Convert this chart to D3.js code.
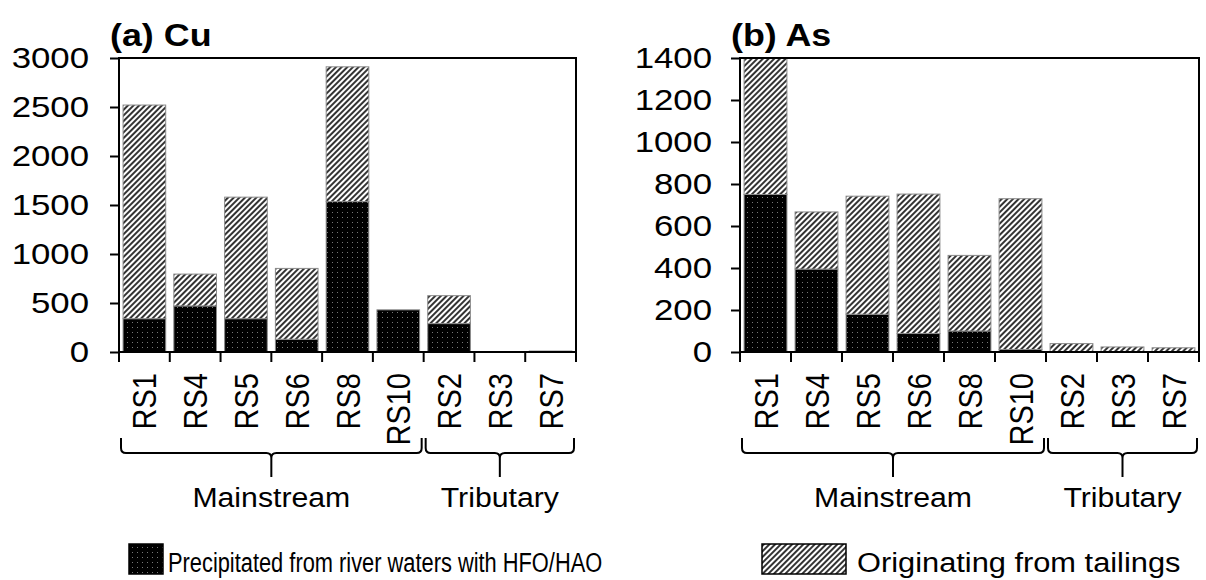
<!DOCTYPE html>
<html>
<head>
<meta charset="utf-8">
<script src="https://cdn.jsdelivr.net/npm/d3@7"></script>
<style>
  body { margin: 0; background: #fff; }
  svg { display: block; font-family: "Liberation Sans", Arial, sans-serif; }
</style>
</head>
<body>
<svg id="chart" width="1206" height="580"></svg>
<script>
// sampling sites, in plotted order
const sites = ["RS1", "RS4", "RS5", "RS6", "RS8", "RS10", "RS2", "RS3", "RS7"];
const groups = [
    {name: "Mainstream", from: 0, to: 6},
    {name: "Tributary", from: 6, to: 9}
];

// Cu (a)
const cuPrecipitated = [340, 470, 340, 130, 1535, 430, 290, 0, 2];
const cuTailings = [2180, 325, 1240, 723, 1375, 0, 285, 0, 8];
const cuTicks = [0, 500, 1000, 1500, 2000, 2500, 3000];

// As (b)
const asPrecipitated = [750, 395, 180, 88, 100, 12, 2, 1, 1];
const asTailings = [650, 272, 562, 664, 360, 718, 38, 23, 19];
const asTicks = [0, 200, 400, 600, 800, 1000, 1200, 1400];

const legendLabels = ["Precipitated from river waters with HFO/HAO", "Originating from tailings"];

const svg = d3.select("#chart");
const defs = svg.append("defs");

// black with faint dots
let dots = defs.append("pattern").attr("id", "dots")
    .attr("patternUnits", "userSpaceOnUse").attr("width", 5).attr("height", 5);
dots.append("rect").attr("width", 5).attr("height", 5).attr("fill", "#000");
dots.append("rect").attr("x", 2).attr("y", 2).attr("width", 1).attr("height", 1).attr("fill", "#777");

// "///" hatching
let hatch = defs.append("pattern").attr("id", "hatch")
    .attr("patternUnits", "userSpaceOnUse").attr("width", 4).attr("height", 4)
    .attr("patternTransform", "rotate(45)");
hatch.append("rect").attr("width", 4).attr("height", 4).attr("fill", "#fff");
hatch.append("line").attr("x1", 1).attr("y1", 0).attr("x2", 1).attr("y2", 4)
    .attr("stroke", "#000").attr("stroke-width", 1.6);

const fills = {precipitated: "url(#dots)", tailings: "url(#hatch)"};

// stretch text horizontally around its anchor point
function stretch(sel, sx) {
    sel.each(function() {
        let t = d3.select(this);
        let x = +t.attr("x") || 0, y = +t.attr("y") || 0;
        t.attr("x", 0).attr("y", 0)
            .attr("transform", "translate(" + x + "," + y + ") scale(" + sx + ",1)");
    });
}

function drawPanel(cfg) {
    let data = sites.map((s, i) => ({site: s, precipitated: cfg.precipitated[i], tailings: cfg.tailings[i]}));
    let series = d3.stack().keys(["precipitated", "tailings"])(data);

    let x = d3.scaleBand().domain(sites).range([cfg.left, cfg.right])
        .paddingInner(0.16).paddingOuter(0.08);
    let y = d3.scaleLinear().domain([0, d3.max(cfg.ticks)]).range([cfg.bottom, cfg.top]);
    let edge = x.step() * 0.08;

    let g = svg.append("g");

    // bars
    g.selectAll("g.layer")
        .data(series)
        .enter().append("g")
        .attr("class", "layer")
        .attr("fill", d => fills[d.key])
        .selectAll("rect")
        .data(d => d)
        .enter().append("rect")
        .attr("x", d => x(d.data.site))
        .attr("width", x.bandwidth())
        .attr("y", d => y(d[1]))
        .attr("height", d => y(d[0]) - y(d[1]))
        .attr("stroke", d => (d[1] - d[0]) > 0 ? "#8a8a8a" : "none")
        .attr("stroke-width", 1);

    // y axis
    let yAxis = d3.axisLeft(y).tickValues(cfg.ticks).tickSize(9).tickPadding(cfg.pad)
        .tickFormat(d3.format("d"));
    let ya = g.append("g")
        .attr("transform", "translate(" + cfg.left + ",0)")
        .call(yAxis);
    ya.select(".domain").remove();
    ya.selectAll("line").attr("stroke", "#000").attr("stroke-width", 2);
    ya.selectAll("text").attr("font-size", 30).attr("fill", "#000")
        .attr("font-family", "Liberation Sans, Arial, sans-serif");
    stretch(ya.selectAll("text"), 1.16);

    // frame
    g.append("rect")
        .attr("x", cfg.left).attr("y", cfg.top)
        .attr("width", cfg.right - cfg.left).attr("height", cfg.bottom - cfg.top)
        .attr("fill", "none").attr("stroke", "#000").attr("stroke-width", 2);

    // category boundary ticks
    let bounds = sites.map(s => x(s) - edge).concat([cfg.right]);
    g.selectAll("line.xtick")
        .data(bounds)
        .enter().append("line")
        .attr("class", "xtick")
        .attr("x1", d => d).attr("x2", d => d)
        .attr("y1", cfg.bottom).attr("y2", cfg.bottom + 10)
        .attr("stroke", "#000").attr("stroke-width", 2);

    // rotated site labels
    g.selectAll("text.site")
        .data(sites)
        .enter().append("text")
        .attr("class", "site")
        .attr("transform", d => "translate(" + (x(d) + x.bandwidth() / 2) + "," + (cfg.bottom + 21) + ") rotate(-90) scale(1,1.15)")
        .attr("dy", "0.36em")
        .attr("text-anchor", "end")
        .attr("font-size", 29)
        .text(d => d);

    // braces + group names
    groups.forEach(gr => {
        let x0 = bounds[gr.from] + 2, x1 = bounds[gr.to] - 2;
        let cx = (bounds[gr.from] + bounds[gr.to]) / 2;
        let yt = 438, yh = 453, yb = 477, r = 5;
        let p = d3.path();
        p.moveTo(x0, yt); p.lineTo(x0, yh - r); p.quadraticCurveTo(x0, yh, x0 + r, yh);
        p.lineTo(cx - r, yh); p.quadraticCurveTo(cx, yh, cx, yh + r); p.lineTo(cx, yb);
        p.moveTo(cx, yh + r); p.quadraticCurveTo(cx, yh, cx + r, yh);
        p.lineTo(x1 - r, yh); p.quadraticCurveTo(x1, yh, x1, yh - r); p.lineTo(x1, yt);
        g.append("path").attr("d", p.toString())
            .attr("fill", "none").attr("stroke", "#000").attr("stroke-width", 2);

        let t = g.append("text")
            .attr("x", cx).attr("y", 507)
            .attr("text-anchor", "middle")
            .attr("font-size", 27)
            .text(gr.name);
        stretch(t, 1.12);
    });

    // title
    let title = g.append("text")
        .attr("x", cfg.left - 9).attr("y", 46)
        .attr("font-size", 32).attr("font-weight", "bold")
        .text(cfg.title);
    stretch(title, 1.12);
}

drawPanel({
    title: "(a) Cu", left: 119, right: 576, top: 58, bottom: 352, pad: 21,
    ticks: cuTicks, precipitated: cuPrecipitated, tailings: cuTailings
});
drawPanel({
    title: "(b) As", left: 740, right: 1199, top: 58, bottom: 352, pad: 19,
    ticks: asTicks, precipitated: asPrecipitated, tailings: asTailings
});

// legend
let legend = svg.append("g");
let items = [
    {fill: fills.precipitated, x0: 129, x1: 163, tx: 168, sx: 0.78},
    {fill: fills.tailings, x0: 762, x1: 846, tx: 857, sx: 1.1}
];
items.forEach((it, i) => {
    legend.append("rect")
        .attr("x", it.x0).attr("y", 544)
        .attr("width", it.x1 - it.x0).attr("height", 30)
        .attr("fill", it.fill).attr("stroke", "#000").attr("stroke-width", 1.5);
    let t = legend.append("text")
        .attr("x", it.tx).attr("y", 572)
        .attr("font-size", 28)
        .text(legendLabels[i]);
    stretch(t, it.sx);
});
</script>
</body>
</html>
